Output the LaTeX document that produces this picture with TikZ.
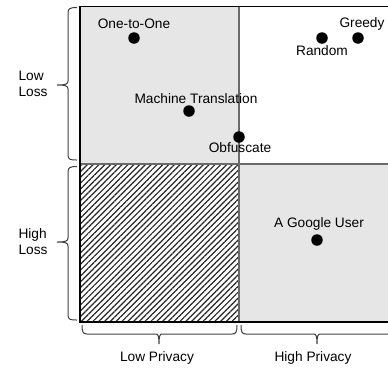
\documentclass[tikz,border=0pt]{standalone}
\usepackage{fontspec}
\setmainfont{Liberation Sans}
\usetikzlibrary{patterns.meta}
\definecolor{quadgray}{HTML}{E6E6E6}
\definecolor{divgray}{HTML}{6A6A6A}
\definecolor{bracegray}{HTML}{404040}
\begin{document}
\begin{tikzpicture}[x=1pt,y=-1pt,
  lbl/.style={font=\fontsize{13.7}{16}\selectfont, inner sep=0pt},
  dot/.style={circle, fill=black, minimum size=11.5pt, inner sep=0pt},
  bracestyle/.style={draw=bracegray, line width=1pt}
]
\useasboundingbox (0,0) rectangle (388,368);
% quadrants
\fill[quadgray] (80,6.5) rectangle (239,164);
\fill[quadgray] (239,164) rectangle (392,322);
\fill[white] (80,164) rectangle (239,322);
\fill[pattern={Lines[angle=45, distance=4.1pt, line width=1.2pt]}, pattern color=black!85] (80,164) rectangle (239,322);
% dividers
\draw[divgray, line width=1.6pt] (80,164) -- (392,164);
\draw[divgray, line width=1.6pt] (239,6.5) -- (239,322);
% outer border
\draw[black, line width=1.5pt] (392,6.5) -- (80,6.5) -- (80,322) -- (392,322);
% braces (left)
\draw[bracestyle] (77,7.5) .. controls (70,7.5) and (68,8.5) .. (68,13) -- (68,81)
  .. controls (68,84) and (66,85) .. (57,85)
  .. controls (66,85) and (68,86) .. (68,89) -- (68,155)
  .. controls (68,159.5) and (70,160) .. (77,160);
\draw[bracestyle] (77,166.5) .. controls (70,166.5) and (68,167.5) .. (68,172) -- (68,238)
  .. controls (68,241) and (66,242) .. (57,242)
  .. controls (66,242) and (68,243) .. (68,246) -- (68,315)
  .. controls (68,319.5) and (70,320) .. (77,320);
% braces (bottom)
\draw[bracestyle] (82,325) .. controls (82,332) and (83,334) .. (87,334) -- (156,334)
  .. controls (158,334) and (159,336) .. (159,344)
  .. controls (159,336) and (160,334) .. (162,334) -- (232,334)
  .. controls (236,334) and (237,332) .. (237,325);
\draw[bracestyle] (241,325) .. controls (241,332) and (242,334) .. (246,334) -- (314,334)
  .. controls (316,334) and (317,336) .. (317,344)
  .. controls (317,336) and (318,334) .. (320,334) -- (395,334);
% axis labels
\node[lbl, align=left] (lowloss) at (33,84) {Low\\Loss};
\node[lbl, align=left] (highloss) at (33,242) {High\\Loss};
\node[lbl] (lowpriv) at (157,358) {Low Privacy};
\node[lbl] (highpriv) at (313,358) {High Privacy};
% points
\node[dot] (onetoone) at (134,38) {};
\node[lbl] (onetoonel) at (134,24) {One-to-One};
\node[dot] (mt) at (189,111) {};
\node[lbl] (mtl) at (196,99) {Machine Translation};
\node[dot] (obf) at (239,137) {};
\node[lbl] (obfl) at (240,148) {Obfuscate};
\node[dot] (rand) at (322,38) {};
\node[lbl] (randl) at (322,51) {Random};
\node[dot] (greedy) at (358,38) {};
\node[lbl] (greedyl) at (362,24) {Greedy};
\node[dot] (google) at (317,240) {};
\node[lbl] (googlel) at (319,224) {A Google User};
\end{tikzpicture}
\end{document}
